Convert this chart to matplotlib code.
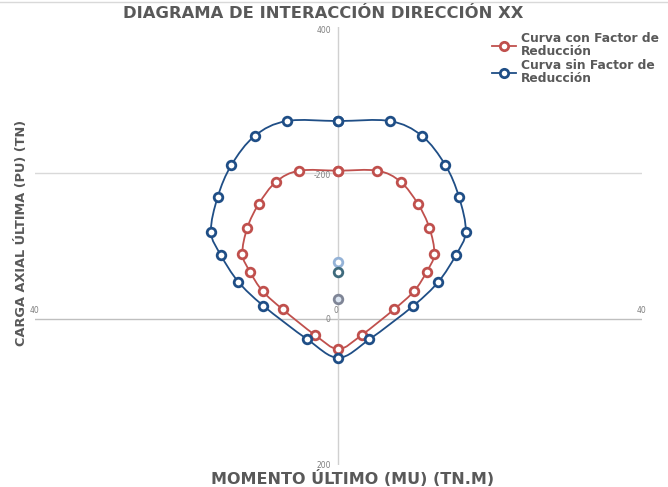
import matplotlib
matplotlib.use("Agg")
import matplotlib.pyplot as plt
import numpy as np
from matplotlib.path import Path
from matplotlib.patches import PathPatch
from matplotlib.lines import Line2D

# ---- data (momento Mu [tn.m], carga Pu [tn]) ----
m_sin = [0, 6.8, 11.0, 14.1, 15.9, 16.8, 15.5, 13.2, 9.9, 4.1, 0,
         -4.1, -9.9, -13.2, -15.5, -16.8, -15.9, -14.1, -11.0, -6.8, 0]
p_sin = [-271.6, -271.6, -251.5, -211.4, -167.9, -120.0, -88.1, -51.5, -18.6, 27.4, 52.6,
         27.4, -18.6, -51.5, -88.1, -120.0, -167.9, -211.4, -251.5, -271.6, -271.6]

m_con = [0, 5.15, 8.2, 10.5, 12.0, 12.65, 11.65, 10.0, 7.35, 3.08, 0,
         -3.08, -7.35, -10.0, -11.65, -12.65, -12.0, -10.5, -8.2, -5.15, 0]
p_con = [-203.6, -203.6, -188.5, -157.9, -125.5, -89.5, -65.2, -38.8, -13.7, 21.5, 40.7,
         21.5, -13.7, -38.8, -65.2, -89.5, -125.5, -157.9, -188.5, -203.6, -203.6]

m_extra = [0, 0, 0]
p_extra = [-78.9, -64.4, -27.4]

x_ticks = [-40, 0, 40]
x_labels = ["40", "0", "40"]
y_ticks = [-400, -200, 0, 200]
y_labels = ["400", "-200", "0", "200"]

RED = "#c0504d"
BLUE = "#1f4e86"
GRAY_TXT = "#595959"


def smooth_path(xs, ys):
    pts = np.column_stack([xs, ys]).astype(float)
    n = len(pts)
    verts = [pts[0]]
    codes = [Path.MOVETO]
    for i in range(n - 1):
        p0 = pts[i - 1] if i > 0 else pts[-2]
        p1 = pts[i]
        p2 = pts[i + 1]
        p3 = pts[i + 2] if i + 2 < n else pts[1]
        c1 = p1 + (p2 - p0) / 6.0
        c2 = p2 - (p3 - p1) / 6.0
        verts += [c1, c2, p2]
        codes += [Path.CURVE4] * 3
    return Path(verts, codes)


fig = plt.figure(figsize=(6.68, 4.87), dpi=100)
ax = fig.add_axes([35 / 668, (487 - 465.3) / 487, 606.7 / 668, 438 / 487])
ax.set_xlim(-40, 40)
ax.set_ylim(200, -400)
ax.axis("off")

# axes / gridlines
ax.axhline(-200, color="#d9d9d9", lw=1.0, zorder=1)
ax.axhline(0, color="#bfbfbf", lw=1.0, zorder=1)
ax.axvline(0, color="#d0d0d0", lw=1.0, zorder=1)

# curves
for xs, ys, col in [(m_con, p_con, RED), (m_sin, p_sin, BLUE)]:
    ax.add_patch(PathPatch(smooth_path(xs, ys), facecolor="none", edgecolor=col, lw=1.3, zorder=3))
    ax.plot(xs, ys, ls="none", marker="o", ms=6.2, mfc="white", mec=col, mew=2.0, zorder=4)

extra_cols = ["#95b3d7", "#3f6b7d", "#7f8596"]
extra_face = ["white", "white", "#dce6f2"]
for x, y, c, f in zip(m_extra, p_extra, extra_cols, extra_face):
    ax.plot([x], [y], ls="none", marker="o", ms=6.2, mfc=f, mec=c, mew=2.0, zorder=4)

# tick labels
y_nudge = {-400: 4, -200: 3}
for v, lab in zip(y_ticks, y_labels):
    ax.text(-1.0, v + y_nudge.get(v, 0), lab, ha="right", va="center", fontsize=5.5,
            color="#7f7f7f", zorder=5)
for v, lab in zip(x_ticks, x_labels):
    ax.text(v - (0.3 if v == 0 else 0), -12, lab, ha="center", va="center",
            fontsize=5.5, color="#7f7f7f", zorder=5)

# titles
fig.text(323 / 668, 1 - 14 / 487, "DIAGRAMA DE INTERACCIÓN DIRECCIÓN XX", ha="center", va="center",
         fontsize=11.8, fontweight="bold", color=GRAY_TXT, family="DejaVu Sans")
fig.text(353 / 668, 1 - 478 / 487, "MOMENTO ÚLTIMO (MU) (TN.M)", ha="center", va="center",
         fontsize=11.5, fontweight="bold", color=GRAY_TXT, family="DejaVu Sans")
fig.text(22 / 668, 1 - 233 / 487, "CARGA AXIAL ÚLTIMA (PU) (TN)", ha="center", va="center",
         rotation=90, fontsize=9.3, fontweight="bold", color=GRAY_TXT,
         family=["Liberation Sans Narrow", "DejaVu Sans"])

# top border line
fig.add_artist(Line2D([0, 1], [1 - 2 / 487, 1 - 2 / 487], color="#d9d9d9", lw=1.0))

# legend
handles = [
    Line2D([], [], color=RED, lw=1.3, marker="o", ms=6, mfc="white", mec=RED, mew=2.0),
    Line2D([], [], color=BLUE, lw=1.3, marker="o", ms=6, mfc="white", mec=BLUE, mew=2.0),
]
leg = fig.legend(handles, ["Curva con Factor de\nReducción", "Curva sin Factor de\nReducción"],
                 loc="upper left", bbox_to_anchor=(492 / 668, 1 - 32 / 487), frameon=False,
                 prop={"size": 8.8, "weight": "bold", "family": "DejaVu Sans"},
                 handlelength=2.0, handletextpad=0.4, labelspacing=0.12, borderaxespad=0,
                 borderpad=0)
for t in leg.get_texts():
    t.set_color(GRAY_TXT)
    t.set_linespacing(1.0)

fig.savefig("out.png", dpi=100)
